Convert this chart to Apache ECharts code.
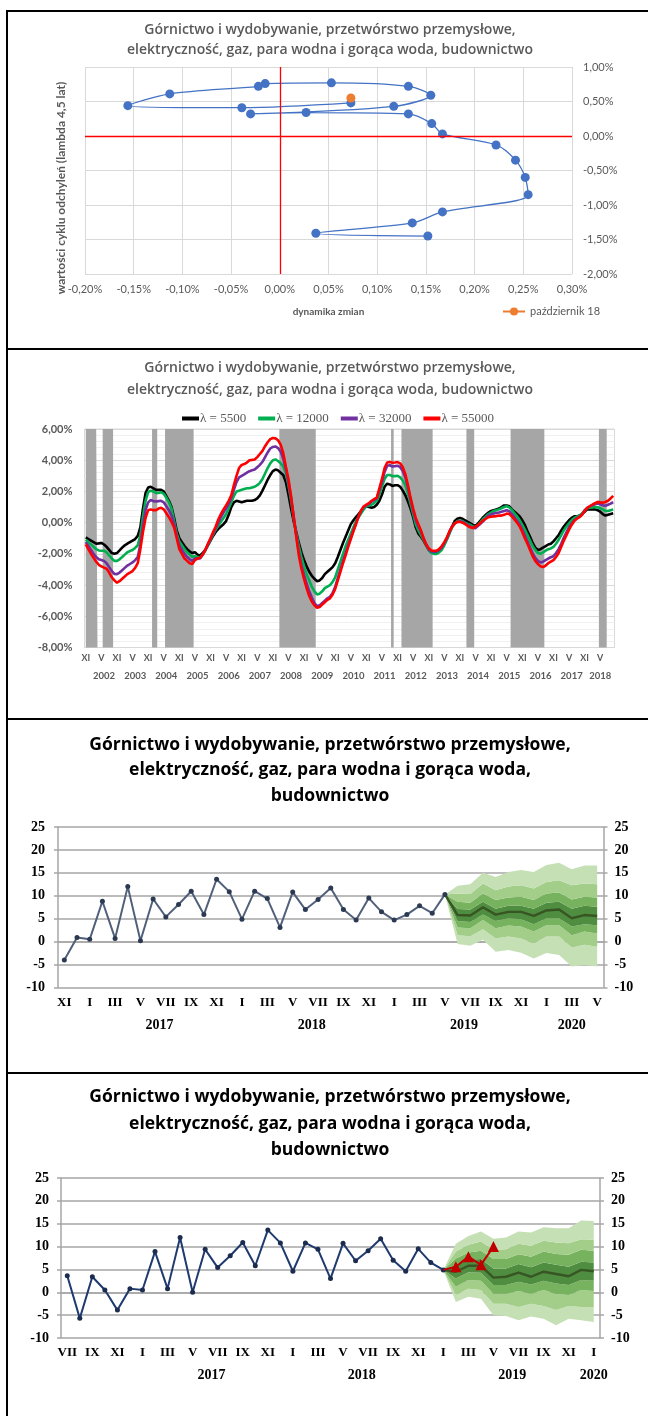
<!DOCTYPE html>
<html lang="pl">
<head>
<meta charset="UTF-8">
<title>Górnictwo i wydobywanie, przetwórstwo przemysłowe, elektryczność, gaz, para wodna i gorąca woda, budownictwo</title>
<script src="https://cdn.jsdelivr.net/npm/echarts@6/dist/echarts.min.js"></script>
<style>
  html, body { margin: 0; padding: 0; background: #fff; }
  body { width: 648px; height: 1416px; position: relative; overflow: hidden; }
  .chart { position: absolute; left: 0; width: 648px; }
  .rule { position: absolute; background: #000; z-index: 5; }
</style>
</head>
<body>
<div id="c1" class="chart" style="top:10px;height:339px"></div>
<div id="c2" class="chart" style="top:349px;height:370px"></div>
<div id="c3" class="chart" style="top:719px;height:354px"></div>
<div id="c4" class="chart" style="top:1073px;height:343px"></div>

<!-- ramki paneli -->
<div class="rule" style="left:6px;top:10px;width:642px;height:2px"></div>
<div class="rule" style="left:6px;top:10px;width:2px;height:1406px"></div>
<div class="rule" style="left:6px;top:348px;width:642px;height:2px"></div>
<div class="rule" style="left:6px;top:718px;width:642px;height:2px"></div>
<div class="rule" style="left:6px;top:1072px;width:642px;height:2px"></div>

<script type="text/javascript">
var SANS = 'Lato, "Open Sans", sans-serif';
var TITLE_FONT = '"Open Sans", Lato, sans-serif';
var SERIF = '"Liberation Serif", "Times New Roman", serif';
var ROMAN = ['I', 'II', 'III', 'IV', 'V', 'VI', 'VII', 'VIII', 'IX', 'X', 'XI', 'XII'];

var TITLE_2L = 'Górnictwo i wydobywanie, przetwórstwo przemysłowe,\nelektryczność, gaz, para wodna i gorąca woda, budownictwo';
var TITLE_3L = 'Górnictwo i wydobywanie, przetwórstwo przemysłowe,\nelektryczność, gaz, para wodna i gorąca woda,\nbudownictwo';

// ---- wykres 1: cykl vs dynamika zmian (w %) ----
var cycleDyn = [0.152, 0.037, 0.136, 0.167, 0.255, 0.252, 0.242, 0.222, 0.167, 0.156, 0.132, 0.027,
                -0.030, 0.117, 0.155, 0.132, 0.053, -0.015, -0.022, -0.113, -0.156, -0.039, 0.073];
var cycleVal = [-1.45, -1.41, -1.26, -1.10, -0.85, -0.60, -0.35, -0.13, 0.03, 0.18, 0.32, 0.34,
                0.32, 0.43, 0.59, 0.72, 0.77, 0.76, 0.72, 0.61, 0.44, 0.41, 0.48];
var lastDyn = [0.073];
var lastVal = [0.55];

// ---- wykres 2: cykle HP, XI 2001 - X 2018 (w %) ----
var p2Start = [2001, 11];
var hp5500 = [
  -0.95, -1.05,
  -1.15, -1.25, -1.35, -1.33, -1.30, -1.40, -1.55, -1.75, -1.95, -2.00, -1.95, -1.78,
  -1.60, -1.45, -1.35, -1.25, -1.15, -1.05, -0.85, -0.30, 0.90, 1.90, 2.25, 2.30,
  2.20, 2.10, 2.10, 2.10, 2.00, 1.70, 1.40, 1.00, 0.30, -0.50, -1.00, -1.25,
  -1.50, -1.70, -1.85, -1.95, -1.90, -2.05, -2.10, -1.95, -1.75, -1.45, -1.15, -0.85,
  -0.60, -0.40, -0.25, -0.10, 0.10, 0.50, 1.00, 1.30, 1.40, 1.35, 1.30, 1.35,
  1.40, 1.40, 1.40, 1.45, 1.55, 1.75, 2.05, 2.40, 2.75, 3.05, 3.30, 3.40,
  3.35, 3.20, 3.05, 2.60, 1.80, 0.90, 0.10, -0.60, -1.30, -1.90, -2.40, -2.80,
  -3.15, -3.40, -3.60, -3.75, -3.70, -3.55, -3.30, -3.15, -3.00, -2.85, -2.60, -2.20,
  -1.75, -1.30, -0.90, -0.50, -0.10, 0.15, 0.35, 0.55, 0.75, 0.95, 1.05, 1.00,
  0.95, 1.00, 1.15, 1.40, 1.80, 2.30, 2.50, 2.45, 2.35, 2.40, 2.40, 2.30,
  2.05, 1.75, 1.35, 0.90, 0.35, -0.30, -0.70, -0.90, -1.15, -1.45, -1.75, -1.90,
  -1.90, -1.85, -1.75, -1.60, -1.35, -1.00, -0.60, -0.25, 0.10, 0.25, 0.30, 0.25,
  0.15, 0.05, -0.05, -0.15, -0.20, -0.05, 0.15, 0.35, 0.50, 0.65, 0.75, 0.80,
  0.85, 0.90, 1.00, 1.10, 1.10, 1.05, 0.85, 0.70, 0.55, 0.40, 0.15, -0.15,
  -0.55, -0.90, -1.30, -1.60, -1.75, -1.70, -1.60, -1.50, -1.40, -1.35, -1.20, -1.00,
  -0.80, -0.50, -0.25, -0.05, 0.15, 0.30, 0.40, 0.40, 0.45, 0.55, 0.70, 0.85,
  0.85, 0.85, 0.85, 0.80, 0.70, 0.55, 0.45, 0.50, 0.55, 0.60
];
var hp12000 = [
  -1.10, -1.25,
  -1.40, -1.55, -1.70, -1.78, -1.80, -1.80, -1.90, -2.10, -2.30, -2.45, -2.45, -2.35,
  -2.20, -2.05, -1.90, -1.82, -1.75, -1.62, -1.45, -0.80, 0.40, 1.40, 1.95, 2.05,
  2.00, 1.90, 1.90, 1.95, 1.85, 1.60, 1.30, 0.90, 0.10, -0.70, -1.20, -1.45,
  -1.70, -1.90, -2.05, -2.20, -2.15, -2.20, -2.25, -2.05, -1.80, -1.45, -1.10, -0.75,
  -0.45, -0.20, 0.05, 0.30, 0.55, 0.90, 1.30, 1.70, 2.00, 2.05, 2.10, 2.15,
  2.20, 2.20, 2.25, 2.30, 2.40, 2.55, 2.80, 3.15, 3.50, 3.80, 4.00, 4.05,
  3.95, 3.80, 3.60, 3.15, 2.40, 1.40, 0.30, -0.70, -1.50, -2.20, -2.80, -3.30,
  -3.70, -4.10, -4.40, -4.60, -4.55, -4.40, -4.20, -4.10, -4.00, -3.80, -3.50, -3.00,
  -2.50, -2.00, -1.50, -1.10, -0.70, -0.30, 0.10, 0.35, 0.60, 0.85, 1.05, 1.10,
  1.15, 1.25, 1.40, 1.80, 2.30, 2.80, 3.05, 3.05, 2.98, 2.98, 3.00, 2.90,
  2.70, 2.40, 1.85, 1.20, 0.55, -0.10, -0.50, -0.80, -1.10, -1.45, -1.75, -1.95,
  -2.00, -2.00, -1.90, -1.75, -1.45, -1.10, -0.70, -0.30, -0.05, 0.10, 0.12, 0.10,
  0.00, -0.08, -0.15, -0.25, -0.30, -0.15, 0.05, 0.25, 0.40, 0.55, 0.65, 0.75,
  0.80, 0.85, 0.92, 1.00, 1.05, 0.98, 0.80, 0.60, 0.40, 0.15, -0.15, -0.45,
  -0.80, -1.15, -1.50, -1.75, -1.95, -2.00, -1.90, -1.80, -1.70, -1.65, -1.55, -1.35,
  -1.10, -0.80, -0.50, -0.25, -0.05, 0.15, 0.30, 0.38, 0.45, 0.58, 0.78, 0.92,
  0.95, 0.98, 1.00, 0.98, 0.92, 0.85, 0.75, 0.75, 0.80, 0.85
];
var hp32000 = [
  -1.25, -1.50,
  -1.75, -2.00, -2.20, -2.35, -2.40, -2.45, -2.60, -2.85, -3.10, -3.28, -3.30, -3.20,
  -3.05, -2.90, -2.75, -2.65, -2.55, -2.40, -2.20, -1.40, -0.20, 0.80, 1.30, 1.45,
  1.38, 1.35, 1.38, 1.40, 1.30, 1.05, 0.80, 0.45, -0.10, -0.85, -1.45, -1.75,
  -2.00, -2.20, -2.35, -2.45, -2.30, -2.28, -2.30, -2.05, -1.75, -1.40, -1.05, -0.70,
  -0.35, 0.00, 0.35, 0.65, 0.90, 1.20, 1.60, 2.10, 2.60, 2.90, 3.00, 3.10,
  3.20, 3.30, 3.35, 3.40, 3.55, 3.70, 3.90, 4.20, 4.50, 4.75, 4.85, 4.88,
  4.78, 4.55, 4.10, 3.40, 2.60, 1.60, 0.40, -0.80, -1.90, -2.70, -3.35, -3.90,
  -4.40, -4.80, -5.15, -5.35, -5.30, -5.15, -5.00, -4.85, -4.75, -4.50, -4.10, -3.55,
  -3.00, -2.45, -1.95, -1.45, -0.95, -0.50, -0.05, 0.40, 0.75, 1.00, 1.10, 1.20,
  1.35, 1.45, 1.55, 2.05, 2.60, 3.25, 3.65, 3.68, 3.60, 3.62, 3.65, 3.55,
  3.30, 2.90, 2.25, 1.45, 0.75, 0.15, -0.25, -0.60, -1.00, -1.40, -1.70, -1.85,
  -1.88, -1.85, -1.75, -1.60, -1.32, -1.00, -0.60, -0.25, -0.05, 0.05, 0.07, 0.05,
  -0.05, -0.15, -0.25, -0.32, -0.35, -0.20, -0.05, 0.10, 0.30, 0.45, 0.52, 0.58,
  0.62, 0.65, 0.70, 0.75, 0.80, 0.72, 0.55, 0.35, 0.12, -0.10, -0.45, -0.80,
  -1.20, -1.60, -1.95, -2.25, -2.45, -2.55, -2.50, -2.40, -2.30, -2.22, -2.15, -1.95,
  -1.70, -1.35, -0.95, -0.62, -0.30, -0.05, 0.15, 0.28, 0.38, 0.52, 0.78, 0.95,
  1.05, 1.12, 1.18, 1.22, 1.18, 1.12, 1.08, 1.15, 1.22, 1.32
];
var hp55000 = [
  -1.40, -1.70,
  -2.00, -2.25, -2.50, -2.70, -2.80, -2.88, -2.95, -3.20, -3.50, -3.70, -3.85, -3.75,
  -3.60, -3.45, -3.30, -3.20, -3.10, -2.90, -2.60, -1.70, -0.60, 0.30, 0.80, 0.85,
  0.80, 0.80, 0.90, 0.95, 0.85, 0.60, 0.35, 0.05, -0.30, -1.00, -1.70, -2.00,
  -2.30, -2.45, -2.60, -2.65, -2.40, -2.30, -2.25, -2.05, -1.75, -1.35, -1.00, -0.60,
  -0.25, 0.20, 0.55, 0.85, 1.10, 1.40, 1.75, 2.40, 3.00, 3.50, 3.70, 3.75,
  3.85, 4.00, 4.02, 4.05, 4.20, 4.40, 4.60, 4.90, 5.15, 5.35, 5.42, 5.40,
  5.28, 5.00, 4.45, 3.60, 2.80, 1.70, 0.40, -0.90, -2.10, -2.95, -3.60, -4.20,
  -4.70, -5.05, -5.30, -5.45, -5.40, -5.25, -5.10, -4.95, -4.85, -4.60, -4.25, -3.70,
  -3.15, -2.60, -2.10, -1.55, -1.05, -0.55, -0.10, 0.40, 0.80, 1.05, 1.15, 1.25,
  1.40, 1.50, 1.60, 2.20, 2.80, 3.50, 3.85, 3.88, 3.84, 3.85, 3.88, 3.80,
  3.55, 3.10, 2.40, 1.60, 0.90, 0.30, -0.10, -0.50, -1.00, -1.40, -1.65, -1.78,
  -1.80, -1.80, -1.70, -1.50, -1.25, -0.95, -0.55, -0.25, -0.05, 0.05, 0.05, 0.00,
  -0.10, -0.20, -0.30, -0.35, -0.25, -0.15, 0.00, 0.15, 0.25, 0.35, 0.38, 0.40,
  0.42, 0.45, 0.45, 0.50, 0.58, 0.55, 0.40, 0.20, 0.00, -0.25, -0.60, -1.00,
  -1.35, -1.75, -2.15, -2.45, -2.65, -2.80, -2.85, -2.75, -2.60, -2.50, -2.40, -2.20,
  -1.95, -1.55, -1.15, -0.80, -0.45, -0.15, 0.10, 0.25, 0.35, 0.50, 0.75, 0.95,
  1.05, 1.15, 1.25, 1.33, 1.30, 1.28, 1.32, 1.40, 1.55, 1.72
];
// szare pasy (od - do, miesiące)
var greyBands = [
  ['2001-11', '2002-03'], ['2002-06', '2002-09'], ['2004-01', '2004-02'], ['2004-06', '2005-04'],
  ['2008-02', '2009-03'], ['2011-09', '2011-09'], ['2012-01', '2012-12'], ['2014-02', '2014-04'],
  ['2015-07', '2016-07'], ['2018-05', '2018-07']
];
var p2Years = ['2002', '2003', '2004', '2005', '2006', '2007', '2008', '2009', '2010',
               '2011', '2012', '2013', '2014', '2015', '2016', '2017', '2018'];

// ---- wykres 3: XI 2016 - V 2020, prognoza od V 2019 ----
var p3Start = [2016, 11];
var p3Count = 43;
var hist3 = [-4.0, 0.9, 0.5, 8.8, 0.7, 12.0, 0.2, 9.3, 5.4, 8.1, 11.0, 5.9, 13.6, 10.9, 4.9, 11.0,
             9.4, 3.1, 10.8, 7.0, 9.2, 11.7, 7.0, 4.7, 9.5, 6.5, 4.7, 5.9, 7.8, 6.2, 10.3];
var fcStart3 = 30;
var fc3 = [10.3, 5.8, 5.7, 7.5, 5.9, 6.5, 6.5, 5.6, 6.8, 7.0, 5.1, 5.8, 5.6];
var outerLo3 = [10.3, -0.5, -0.9, 0.4, -2.2, -1.8, -2.4, -3.7, -2.5, -2.9, -5.4, -5.1, -5.4];
var midLo3   = [10.3, 1.4, 1.2, 2.7, 0.7, 1.1, 0.7, -0.4, 1.1, 1.1, -1.3, -0.7, -1.1];
var innLo3   = [10.3, 3.1, 2.9, 4.7, 2.9, 3.5, 3.3, 2.2, 3.6, 3.6, 1.4, 2.2, 1.8];
var coreLo3  = [10.3, 4.5, 4.3, 5.9, 4.5, 5.1, 4.9, 3.8, 5.1, 5.1, 3.3, 3.8, 3.6];
var coreHi3  = [10.3, 7.1, 7.0, 8.7, 7.2, 7.8, 7.8, 7.2, 8.5, 8.7, 7.2, 7.8, 7.6];
var innHi3   = [10.3, 8.7, 8.5, 10.5, 9.1, 9.6, 9.8, 9.1, 10.5, 10.7, 9.2, 9.8, 9.6];
var midHi3   = [10.3, 10.5, 10.4, 12.7, 11.2, 12.0, 12.3, 11.6, 13.0, 13.4, 12.3, 12.7, 12.5];
var outerHi3 = [10.3, 12.2, 12.5, 15.0, 14.1, 15.2, 15.6, 15.2, 16.7, 17.2, 15.8, 16.6, 16.6];
var p3Years = ['2017', '2018', '2019', '2020'];

// ---- wykres 4: VII 2016 - I 2020, prognoza od I 2019 ----
var p4Start = [2016, 7];
var p4Count = 43;
var hist4 = [3.6, -5.7, 3.4, 0.5, -3.9, 0.8, 0.5, 8.9, 0.8, 12.0, 0.0, 9.4, 5.4, 8.0, 10.9, 5.8,
             13.6, 10.8, 4.6, 10.8, 9.4, 3.0, 10.7, 6.9, 9.1, 11.7, 7.0, 4.6, 9.5, 6.5, 4.9];
var actual4 = [4.9, 5.6, 7.8, 6.0, 10.0];
var fcStart4 = 30;
var fc4 = [4.9, 4.5, 5.8, 5.8, 3.2, 3.4, 4.3, 3.4, 4.5, 4.0, 3.5, 4.9, 4.6];
var outerLo4 = [4.9, -2.1, -1.0, -1.4, -5.0, -5.2, -6.1, -5.3, -5.8, -7.2, -5.8, -6.1, -6.5];
var midLo4   = [4.9, -0.6, 0.8, 0.5, -2.5, -2.5, -3.2, -2.5, -3.0, -3.9, -3.0, -3.2, -3.3];
var innLo4   = [4.9, 1.2, 2.7, 2.5, -0.3, -0.3, 0.3, -0.3, 0.5, -0.4, -0.6, 0.5, 0.3];
var coreLo4  = [4.9, 3.0, 4.4, 4.3, 1.6, 1.6, 2.3, 1.7, 2.5, 1.9, 1.6, 2.7, 2.5];
var coreHi4  = [4.9, 6.0, 7.1, 7.3, 5.2, 5.2, 6.2, 5.5, 6.5, 6.0, 5.6, 6.7, 6.5];
var innHi4   = [4.9, 7.4, 8.7, 9.1, 7.3, 7.3, 8.3, 7.8, 8.9, 8.4, 8.2, 9.3, 9.1];
var midHi4   = [4.9, 8.9, 10.4, 11.1, 9.3, 9.4, 10.6, 10.2, 11.3, 10.9, 10.7, 11.6, 11.5];
var outerHi4 = [4.9, 10.6, 12.3, 13.3, 11.7, 12.0, 13.3, 13.1, 14.2, 14.0, 14.0, 15.7, 15.6];
var p4Years = ['2017', '2018', '2019', '2020'];

var fanColors = ['#C5E0B4', '#A3CE89', '#77B25E', '#4F8D40'];

// ---------------- pomocnicze ----------------
function monthKeys(start, n) {
    var y = start[0], m = start[1], out = [];
    for (var i = 0; i < n; i++) {
        out.push(y + '-' + (m < 10 ? '0' : '') + m);
        m++;
        if (m > 12) { m = 1; y++; }
    }
    return out;
}
function monthNo(key) { return +key.slice(5); }
function pct(v) {
    if (Math.abs(v) < 1e-9) v = 0;
    return v.toFixed(2).replace('.', ',') + '%';
}
function place(arr, start, total) {
    var out = [];
    for (var i = 0; i < total; i++) out.push(null);
    for (var j = 0; j < arr.length; j++) out[start + j] = arr[j];
    return out;
}
// pozycja podpisu roku: środek miesięcy danego roku
function yearMarks(keys, years) {
    var marks = {};
    years.forEach(function (y) {
        var first = -1, last = -1;
        keys.forEach(function (k, i) {
            if (k.slice(0, 4) === y) { if (first < 0) first = i; last = i; }
        });
        marks[Math.floor((first + last) / 2)] = { text: y, shift: (last - first) % 2 === 1 };
    });
    return marks;
}
function titleGraphic(text, top, size, lh, weight, color) {
    return {
        type: 'text', x: 330, y: top, silent: true,
        style: {
            text: text, fill: color, font: weight + ' ' + size + 'px ' + TITLE_FONT,
            lineHeight: lh, align: 'center', textAlign: 'center',
            verticalAlign: 'top', textVerticalAlign: 'top'
        }
    };
}
function fanSeries(stackId, start, total, bands) {
    var colorOrder = [fanColors[0], fanColors[1], fanColors[2], fanColors[3], fanColors[2], fanColors[1], fanColors[0]];
    var list = [{
        type: 'line', stack: stackId, stackStrategy: 'all', data: place(bands[0], start, total),
        symbol: 'none', lineStyle: { opacity: 0 }, silent: true, z: 1
    }];
    for (var b = 1; b < bands.length; b++) {
        var diff = bands[b].map(function (v, i) { return Math.round((v - bands[b - 1][i]) * 100) / 100; });
        list.push({
            type: 'line', stack: stackId, stackStrategy: 'all', data: place(diff, start, total),
            symbol: 'none', lineStyle: { opacity: 0 }, silent: true, z: 1,
            areaStyle: { color: colorOrder[b - 1], opacity: 1 }
        });
    }
    return list;
}

// ================= wykres 1 =================
var chart1 = echarts.init(document.getElementById('c1'));
var cyclePts = cycleDyn.map(function (x, i) { return [x, cycleVal[i]]; });
var lastPts = lastDyn.map(function (x, i) { return [x, lastVal[i]]; });
chart1.setOption({
    animation: false,
    graphic: [
        titleGraphic(TITLE_2L, 10, 14, 20, '600', '#595959'),
        {
            type: 'text', x: 61, y: 178, rotation: Math.PI / 2, silent: true,
            style: {
                text: 'wartości cyklu odchyleń (lambda 4,5 lat)', fill: '#595959',
                font: 'bold 12px ' + SANS, align: 'center', textAlign: 'center',
                verticalAlign: 'middle', textVerticalAlign: 'middle'
            }
        }
    ],
    legend: {
        data: ['październik 18'], left: 497, top: 291, itemWidth: 22, itemHeight: 10,
        textStyle: { color: '#595959', fontSize: 11, fontFamily: SANS }
    },
    grid: { left: 85, top: 57, width: 487, height: 207 },
    xAxis: {
        type: 'value', min: -0.2, max: 0.3, interval: 0.05,
        axisLine: { show: false }, axisTick: { show: false },
        splitLine: { lineStyle: { color: '#D9D9D9' } },
        axisLabel: { formatter: pct, color: '#595959', fontSize: 11, fontFamily: SANS, margin: 10 },
        name: 'dynamika zmian', nameLocation: 'middle', nameGap: 33,
        nameTextStyle: { color: '#595959', fontSize: 10, fontWeight: 'bold', fontFamily: SANS }
    },
    yAxis: {
        type: 'value', position: 'right', min: -2, max: 1, interval: 0.5,
        axisLine: { show: false }, axisTick: { show: false },
        splitLine: { lineStyle: { color: '#D9D9D9' } },
        axisLabel: { formatter: pct, color: '#595959', fontSize: 11, fontFamily: SANS, margin: 11 }
    },
    series: [
        {
            name: 'cykl', type: 'line', data: cyclePts, smooth: 0.3,
            symbol: 'circle', symbolSize: 9, showAllSymbol: true,
            itemStyle: { color: '#4472C4' }, lineStyle: { color: '#4472C4', width: 1.3 },
            markLine: {
                silent: true, symbol: 'none', label: { show: false },
                lineStyle: { color: '#FF0000', width: 1.3, type: 'solid' },
                data: [{ xAxis: 0 }, { yAxis: 0 }]
            },
            z: 3
        },
        {
            name: 'październik 18', type: 'line', data: lastPts,
            symbol: 'circle', symbolSize: 9,
            itemStyle: { color: '#ED7D31' }, lineStyle: { color: '#ED7D31', width: 2 },
            z: 4
        }
    ]
});

// ================= wykres 2 =================
var keys2 = monthKeys(p2Start, hp5500.length);
var marks2 = yearMarks(keys2, p2Years);
var bandFlags = keys2.map(function (k) {
    return greyBands.some(function (b) { return k >= b[0] && k <= b[1]; }) ? 1 : 0;
});
var chart2 = echarts.init(document.getElementById('c2'));
function hpLine(name, data, color) {
    return {
        name: name, type: 'line', data: data, symbol: 'none', xAxisIndex: 0, yAxisIndex: 0,
        lineStyle: { color: color, width: 2.6 }, itemStyle: { color: color }, z: 3
    };
}
chart2.setOption({
    animation: false,
    graphic: [titleGraphic(TITLE_2L, 8, 14, 22, '600', '#595959')],
    legend: {
        data: ['λ = 5500', 'λ = 12000', 'λ = 32000', 'λ = 55000'],
        icon: 'rect', left: 177, top: 58, itemWidth: 17, itemHeight: 4, itemGap: 12,
        textStyle: { color: '#595959', fontSize: 13, fontFamily: SERIF, padding: [0, 0, 0, -4] }
    },
    grid: { left: 84.5, top: 80, width: 530, height: 218.5, show: true, borderColor: '#D9D9D9', borderWidth: 1 },
    xAxis: [
        {
            type: 'category', data: keys2,
            axisLine: { lineStyle: { color: '#D9D9D9' } },
            axisTick: { interval: 0, length: 5, lineStyle: { color: '#D9D9D9' } },
            axisLabel: {
                interval: function (i, v) { var m = monthNo(v); return m === 11 || m === 5; },
                formatter: function (v) { return ROMAN[monthNo(v) - 1]; },
                color: '#595959', fontSize: 9, fontWeight: 'bold', fontFamily: SANS, margin: 6
            }
        },
        {
            type: 'category', data: keys2, position: 'bottom', offset: 16,
            axisLine: { show: false },
            axisTick: {
                interval: function (i, v) { return i === 0 || monthNo(v) === 1; },
                length: 17, lineStyle: { color: '#D9D9D9' }
            },
            axisLabel: {
                interval: function (i) { return !!marks2[i]; },
                formatter: function (v, i) { return marks2[i] ? marks2[i].text : ''; },
                color: '#595959', fontSize: 9.5, fontWeight: 'bold', fontFamily: SANS, margin: 7
            }
        }
    ],
    yAxis: [
        {
            type: 'value', min: -8, max: 6, interval: 2,
            axisLine: { show: false }, axisTick: { show: false },
            splitLine: { lineStyle: { color: '#D9D9D9' } },
            minorTick: { show: false, splitNumber: 5 },
            minorSplitLine: { show: true, lineStyle: { color: '#F0F0F0' } },
            axisLabel: { formatter: pct, color: '#595959', fontSize: 11, fontWeight: 'bold', fontFamily: SANS, margin: 12 }
        },
        { type: 'value', min: 0, max: 1, show: false }
    ],
    series: [
        {
            // szare pasy jako schodkowy obszar 0/1 (krawędzie na granicach miesięcy)
            name: 'tlo', type: 'line', data: bandFlags, xAxisIndex: 0, yAxisIndex: 1,
            step: 'middle', symbol: 'none', silent: true, z: 1,
            lineStyle: { opacity: 0 },
            areaStyle: { color: '#A6A6A6', opacity: 1 }
        },
        hpLine('λ = 5500', hp5500, '#000000'),
        hpLine('λ = 12000', hp12000, '#00B050'),
        hpLine('λ = 32000', hp32000, '#7030A0'),
        hpLine('λ = 55000', hp55000, '#FF0000')
    ]
});

// ================= wykresy 3 i 4 (wachlarz) =================
function fanChart(el, opt) {
    var keys = monthKeys(opt.start, opt.count);
    var marks = yearMarks(keys, opt.years);
    var cellW = opt.grid.width / opt.count;
    var yearStyle = { fontSize: 14, fontWeight: 'bold', fontFamily: SERIF, color: '#000' };
    var yAxisBase = function (pos, margin) {
        return {
            type: 'value', position: pos, min: -10, max: 25, interval: 5,
            axisLine: { show: true, lineStyle: { color: '#A6A6A6', width: 1.5 } },
            axisTick: { show: true, length: 4, lineStyle: { color: '#A6A6A6', width: 1.5 } },
            splitLine: { show: pos === 'left', lineStyle: { color: '#A6A6A6', width: 1.5 } },
            axisLabel: { color: '#000', fontSize: 14, fontWeight: 'bold', fontFamily: SERIF, margin: margin }
        };
    };
    var series = [{
        type: 'line', data: place(opt.hist, 0, opt.count), symbol: 'circle', symbolSize: 5,
        showAllSymbol: true,
        lineStyle: { color: opt.histColor, width: 2 }, itemStyle: { color: opt.dotColor }, z: 4
    }];
    series = series.concat(fanSeries(el, opt.fcStart, opt.count, opt.bands));
    series.push({
        type: 'line', data: place(opt.fc, opt.fcStart, opt.count), symbol: 'none',
        lineStyle: { color: '#375623', width: 2.4 }, z: 3
    });
    if (opt.actual) {
        var act = opt.actual.map(function (v, i) { return i === 0 ? { value: v, symbol: 'none' } : v; });
        series.push({
            type: 'line', data: place(act, opt.fcStart, opt.count), symbol: 'triangle', symbolSize: 11,
            showAllSymbol: true,
            lineStyle: { color: '#C00000', width: 2 }, itemStyle: { color: '#C00000' }, z: 5
        });
    }
    var chart = echarts.init(document.getElementById(el));
    chart.setOption({
        animation: false,
        graphic: [titleGraphic(TITLE_3L, opt.titleTop, 17.5, opt.titleLh, 'bold', '#000')],
        grid: opt.grid,
        xAxis: [
            {
                type: 'category', data: keys,
                axisLine: { lineStyle: { color: '#A6A6A6', width: 1.5 } },
                axisTick: { show: false },
                axisLabel: {
                    interval: function (i, v) { return monthNo(v) % 2 === 1; },
                    formatter: function (v) { return ROMAN[monthNo(v) - 1]; },
                    color: '#000', fontSize: 13, fontWeight: 'bold', fontFamily: SERIF, margin: opt.monthMargin
                }
            },
            {
                type: 'category', data: keys, position: 'bottom',
                axisLine: { show: false },
                axisTick: {
                    interval: function (i, v) { return i === 0 || monthNo(v) === 1; },
                    length: opt.sepLen, lineStyle: { color: '#A6A6A6', width: 1.5 }
                },
                axisLabel: {
                    interval: function (i) { return !!marks[i]; },
                    formatter: function (v, i) {
                        if (!marks[i]) return '';
                        return (marks[i].shift ? '{s|' : '{n|') + marks[i].text + '}';
                    },
                    margin: opt.yearMargin,
                    rich: {
                        s: Object.assign({ padding: [0, 0, 0, cellW] }, yearStyle),
                        n: yearStyle
                    }
                }
            }
        ],
        yAxis: [yAxisBase('left', opt.leftMargin), yAxisBase('right', opt.rightMargin)],
        series: series
    });
}

fanChart('c3', {
    start: p3Start, count: p3Count, years: p3Years,
    hist: hist3, fc: fc3, fcStart: fcStart3,
    bands: [outerLo3, midLo3, innLo3, coreLo3, coreHi3, innHi3, midHi3, outerHi3],
    histColor: '#51607A', dotColor: '#2B3A52',
    grid: { left: 58, top: 108, width: 545.5, height: 160.5 },
    titleTop: 13, titleLh: 25.5, monthMargin: 9, yearMargin: 31, sepLen: 46,
    leftMargin: 13, rightMargin: 11
});

fanChart('c4', {
    start: p4Start, count: p4Count, years: p4Years,
    hist: hist4, fc: fc4, fcStart: fcStart4, actual: actual4,
    bands: [outerLo4, midLo4, innLo4, coreLo4, coreHi4, innHi4, midHi4, outerHi4],
    histColor: '#1F3A6E', dotColor: '#1B2C4F',
    grid: { left: 61, top: 105, width: 539, height: 160 },
    titleTop: 11, titleLh: 26.5, monthMargin: 8, yearMargin: 30, sepLen: 45,
    leftMargin: 12, rightMargin: 11
});
</script>
</body>
</html>
